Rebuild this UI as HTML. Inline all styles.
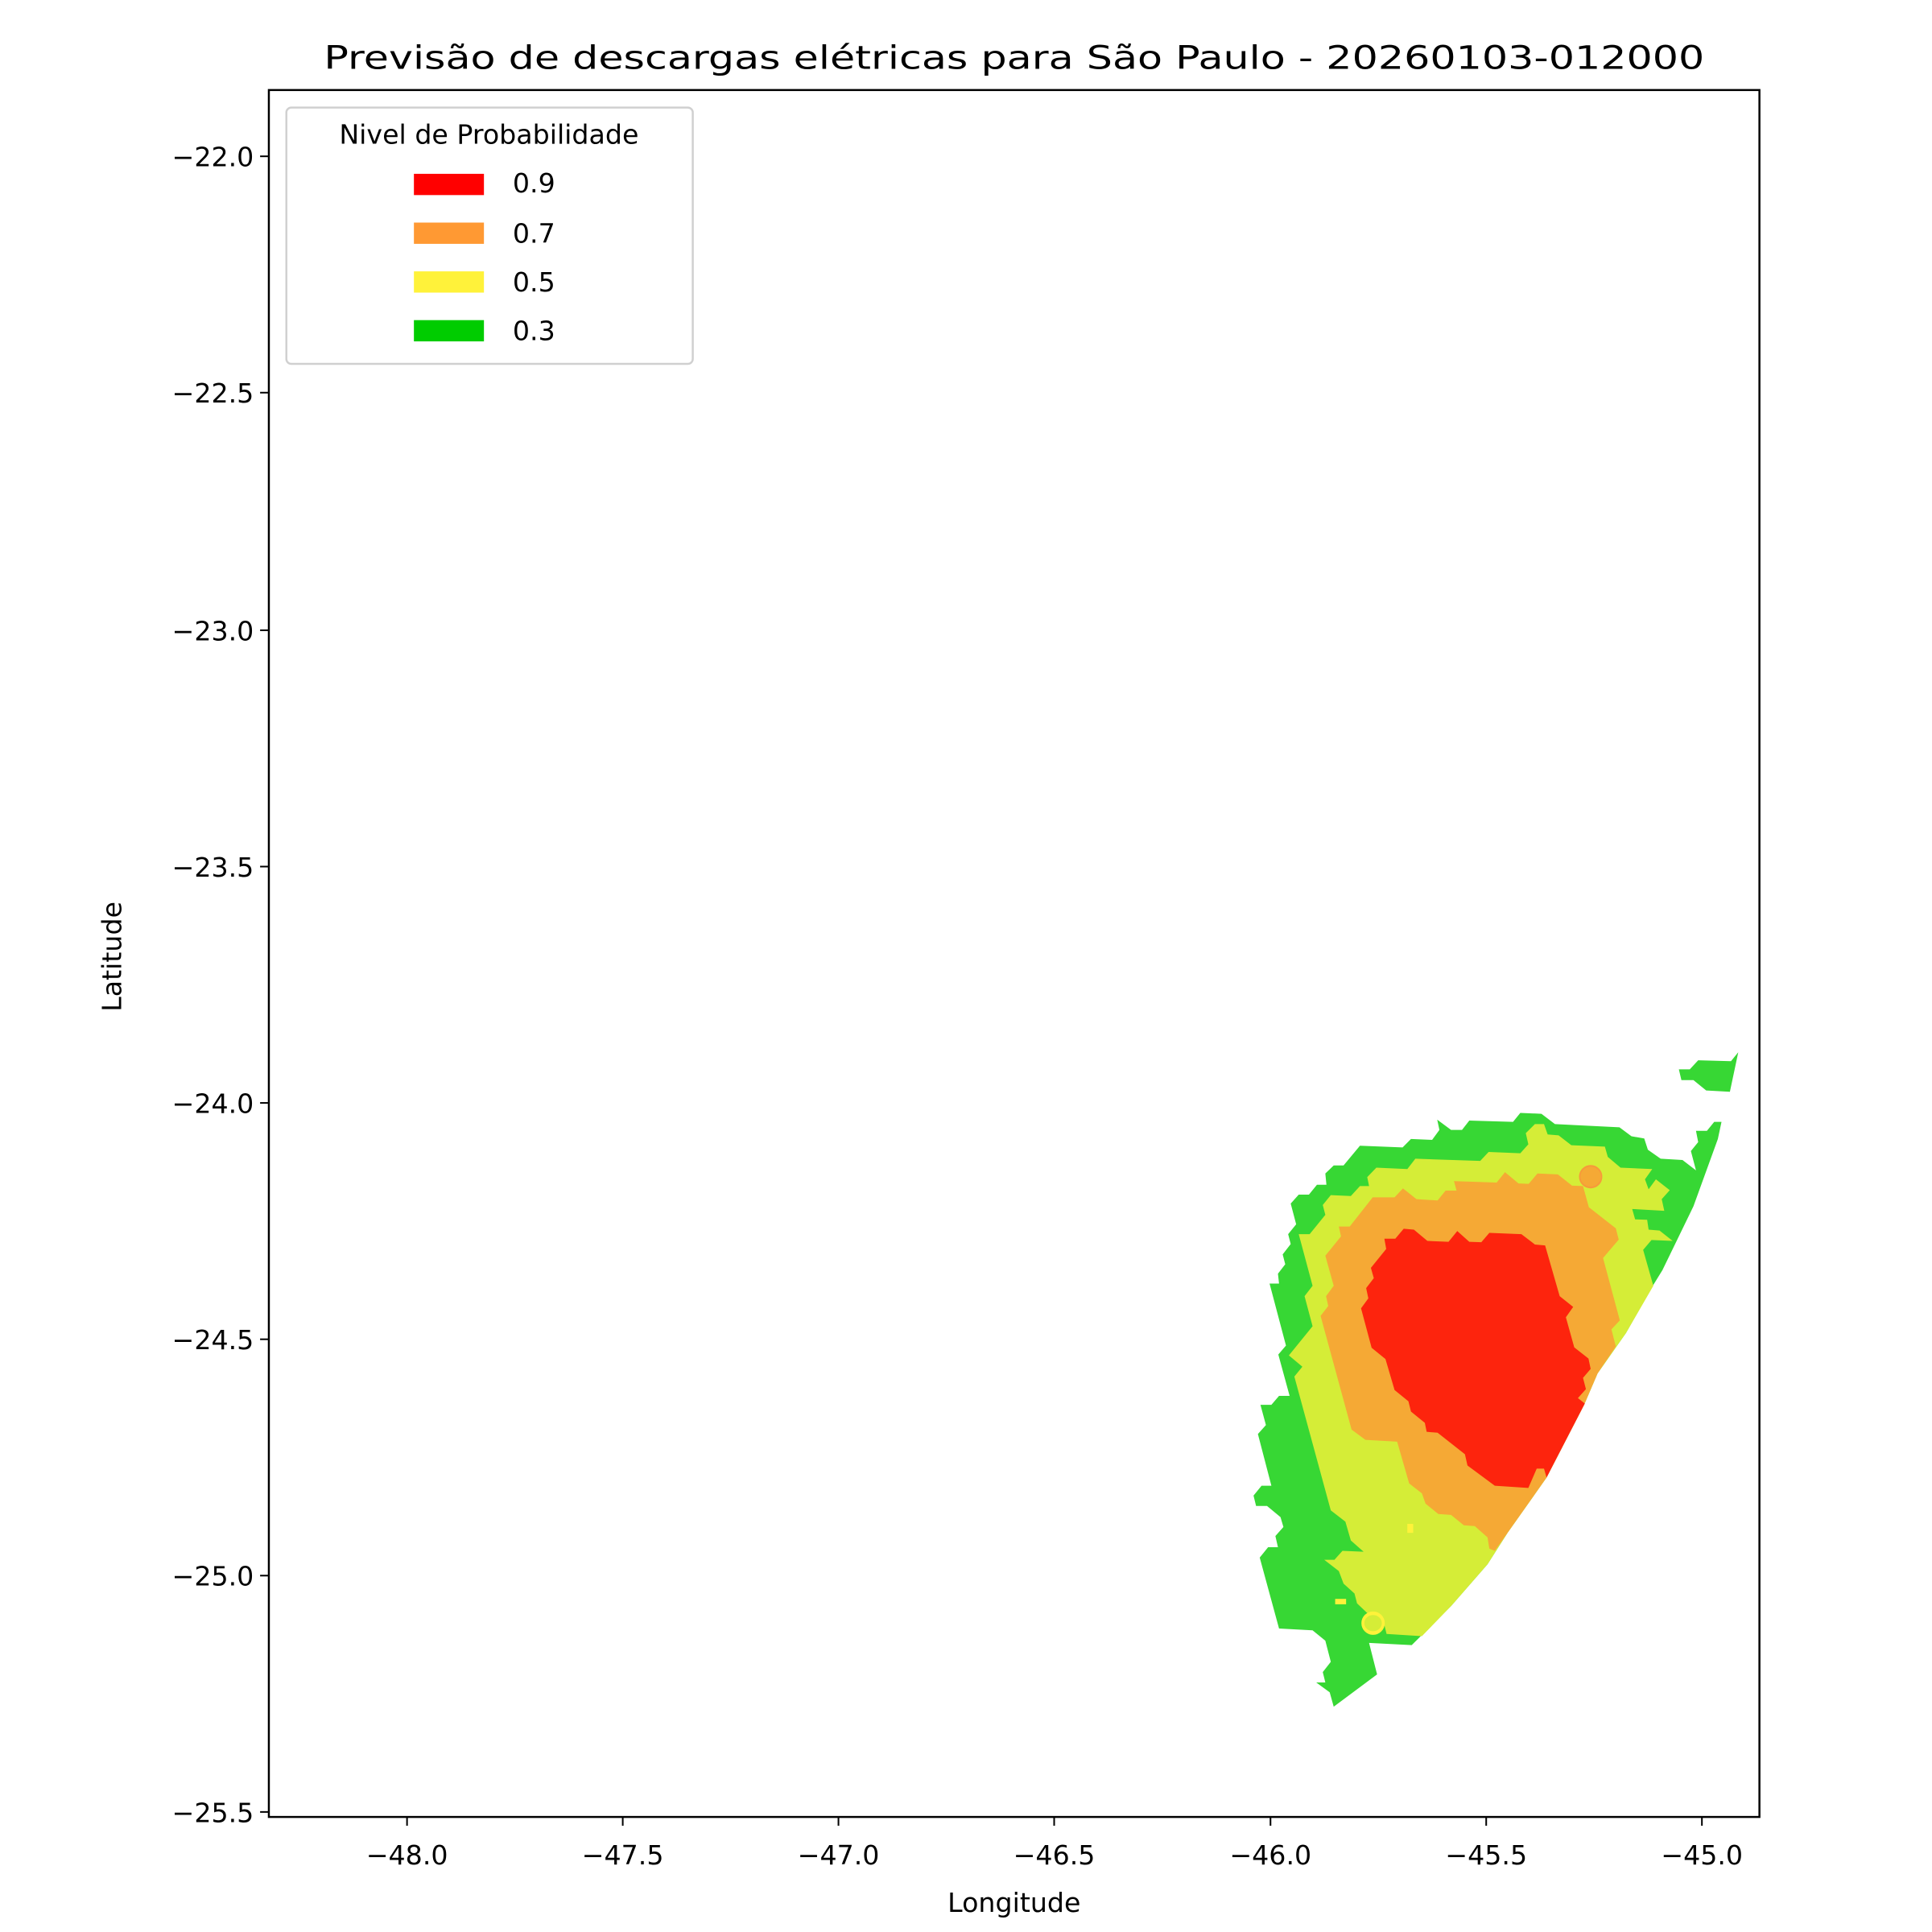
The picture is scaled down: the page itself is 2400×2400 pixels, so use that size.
<!DOCTYPE html>
<html><head><meta charset="utf-8"><style>html,body{margin:0;padding:0;background:#fff}svg{display:block}</style></head>
<body>
<svg xmlns="http://www.w3.org/2000/svg" width="2400" height="2400" viewBox="0 0 1545 1545" font-family="DejaVu Sans, Liberation Sans, sans-serif">
<rect width="1545" height="1545" fill="#fff"/>
<g transform="translate(979.7,828.9) scale(0.29146,0.35920)">
<polygon fill="#37d734" points="180,372 202,352 230,352 252,330 278,330 275,305 298,287 325,287 370,243 487,247 510,228 568,230 588,208 582,185 620,208 650,208 670,187 790,190 810,170 868,172 905,195 1082,202 1115,222 1150,227 1160,252 1195,272 1255,275 1292,298 1278,255 1298,235 1292,210 1322,210 1342,190 1362,190 1352,228 1285,378 1200,520 1175,553 1100,660 1022,750 985,820 882,982 775,1105 720,1175 620,1268 512,1355 395,1350 417,1420 298,1492 287,1460 250,1438 275,1438 268,1415 290,1392 275,1345 240,1322 148,1318 95,1160 118,1137 145,1137 138,1112 160,1092 152,1070 115,1045 85,1045 78,1022 100,1000 127,1000 90,885 112,865 97,820 127,820 148,800 177,800 146,708 167,688 122,550 148,550 145,528 165,507 158,485 180,462 173,440 195,418"/>
<polygon fill="#37d734" points="1245,73 1275,73 1298,53 1388,55 1408,35 1385,123 1320,120 1285,97 1252,97"/>
<polygon fill="#d5ed37" points="202,440 232,440 275,397 268,375 290,353 345,355 370,333 395,333 390,313 415,292 500,295 522,272 700,277 723,257 810,260 832,240 825,215 850,195 875,195 885,218 915,220 950,242 1042,245 1050,268 1085,292 1172,295 1152,318 1162,340 1182,318 1220,342 1198,362 1205,388 1117,384 1125,407 1158,408 1162,430 1192,432 1228,455 1170,453 1147,475 1175,555 1100,660 1022,750 985,820 882,982 775,1105 720,1175 620,1268 540,1335 443,1330 437,1310 405,1285 392,1285 362,1262 355,1240 325,1218 312,1190 272,1165 300,1165 322,1145 380,1147 345,1122 330,1080 290,1055 190,757 212,735 175,710 240,645 218,578 240,555"/>
<polygon fill="#f5a935" points="275,488 318,445 312,423 342,423 405,358 465,358 488,338 525,362 583,365 605,343 635,343 628,322 745,325 768,302 805,327 833,328 857,305 913,307 952,332 982,333 998,380 1072,427 1080,452 1037,493 1083,632 1060,652 1072,690 1022,750 985,820 882,982 775,1105 740,1145 725,1140 720,1115 685,1090 655,1088 620,1065 585,1063 550,1040 540,1017 505,995 472,902 385,898 347,875 262,622 283,600 277,578 298,555"/>
<polygon fill="#fd240d" points="442,473 437,450 467,450 490,428 518,430 555,455 613,457 637,433 670,457 703,458 725,437 813,440 850,463 878,465 918,578 955,602 935,625 958,692 997,717 1003,740 982,760 990,785 968,805 987,817 882,982 875,962 855,962 832,1005 740,1000 665,955 658,930 583,882 553,880 548,860 510,835 503,812 465,787 440,718 402,693 373,605 393,583 387,560 408,538 400,515"/>
<ellipse cx="1003" cy="312" rx="30" ry="24" fill="#f5a935" stroke="#f79a3a" stroke-width="4"/>
<ellipse cx="406" cy="1306" rx="28" ry="22" fill="#d5ed37" stroke="#fff23a" stroke-width="8"/>
<rect x="500" y="1085" width="16" height="20" fill="#fff23a"/>
<rect x="302" y="1252" width="30" height="12" fill="#fff23a"/>
</g>
<rect x="215" y="72" width="1192" height="1381" fill="none" stroke="#000" stroke-width="1.6"/>
<g stroke="#000" stroke-width="1.3">
<line x1="325.5" y1="1453" x2="325.5" y2="1460"/><line x1="498" y1="1453" x2="498" y2="1460"/><line x1="670.5" y1="1453" x2="670.5" y2="1460"/><line x1="843" y1="1453" x2="843" y2="1460"/><line x1="1016" y1="1453" x2="1016" y2="1460"/><line x1="1188.5" y1="1453" x2="1188.5" y2="1460"/><line x1="1361" y1="1453" x2="1361" y2="1460"/>
<line x1="208" y1="125" x2="215" y2="125"/><line x1="208" y1="314" x2="215" y2="314"/><line x1="208" y1="504" x2="215" y2="504"/><line x1="208" y1="693" x2="215" y2="693"/><line x1="208" y1="882" x2="215" y2="882"/><line x1="208" y1="1071" x2="215" y2="1071"/><line x1="208" y1="1260" x2="215" y2="1260"/><line x1="208" y1="1449" x2="215" y2="1449"/>
</g>
<g font-size="21.4" fill="#000" text-anchor="middle">
<text x="325.5" y="1491">−48.0</text><text x="498" y="1491">−47.5</text><text x="670.5" y="1491">−47.0</text><text x="843" y="1491">−46.5</text><text x="1016" y="1491">−46.0</text><text x="1188.5" y="1491">−45.5</text><text x="1361" y="1491">−45.0</text>
</g>
<g font-size="21.4" fill="#000" text-anchor="end">
<text x="203" y="133">−22.0</text><text x="203" y="322">−22.5</text><text x="203" y="512">−23.0</text><text x="203" y="701">−23.5</text><text x="203" y="890">−24.0</text><text x="203" y="1079">−24.5</text><text x="203" y="1268">−25.0</text><text x="203" y="1457">−25.5</text>
</g>
<text x="811" y="1529" font-size="21.4" text-anchor="middle">Longitude</text>
<text transform="translate(97,765) rotate(-90)" font-size="21.4" text-anchor="middle">Latitude</text>
<text x="811" y="55" font-size="25.7" text-anchor="middle" textLength="1104" lengthAdjust="spacingAndGlyphs">Previsão de descargas elétricas para São Paulo - 20260103-012000</text>
<rect x="229" y="86" width="325" height="205" rx="4" fill="#fff" fill-opacity="0.8" stroke="#d0d0d0" stroke-width="1.6"/>
<text x="391" y="115" font-size="21.4" text-anchor="middle">Nivel de Probabilidade</text>
<rect x="331" y="139" width="56" height="17" fill="#ff0000"/>
<rect x="331" y="178" width="56" height="17" fill="#ff9933"/>
<rect x="331" y="217" width="56" height="17" fill="#fff23a"/>
<rect x="331" y="256" width="56" height="17" fill="#00cc00"/>
<g font-size="21.4"><text x="410" y="154">0.9</text><text x="410" y="194">0.7</text><text x="410" y="233">0.5</text><text x="410" y="272">0.3</text></g>
</svg>
</body></html>
